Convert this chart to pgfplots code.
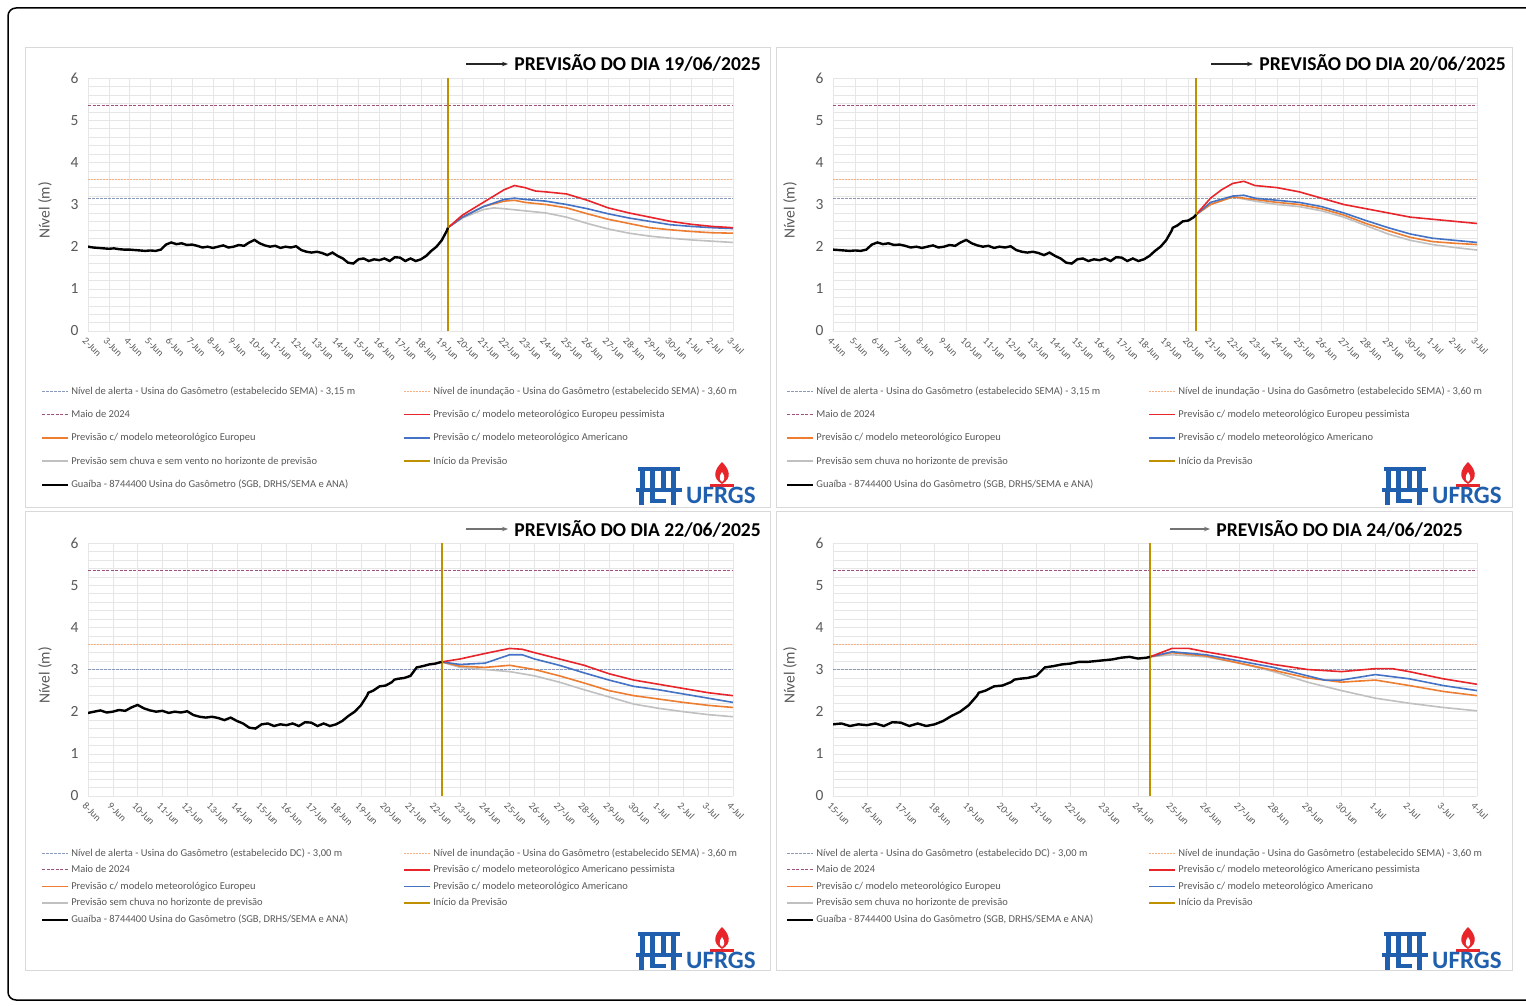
\documentclass[border=0pt]{standalone}
\usepackage{fontspec}
\setmainfont{Carlito}
\usepackage{pgfplots}
\pgfplotsset{compat=1.18}
\usepackage{pgfplotstable}
\usetikzlibrary{arrows.meta}

\definecolor{cAlert}{HTML}{8A9AB8}
\definecolor{cFlood}{HTML}{F4B183}
\definecolor{cMaio}{HTML}{A0507F}
\definecolor{cRed}{HTML}{E8252B}
\definecolor{cOrange}{HTML}{ED7D31}
\definecolor{cBlue}{HTML}{4472C4}
\definecolor{cGray}{HTML}{C0C0C0}
\definecolor{cGold}{HTML}{BF9000}
\definecolor{cTick}{HTML}{595959}
\definecolor{cFrame}{HTML}{D9D9D9}
\definecolor{cGrid}{HTML}{E6E6E6}
\definecolor{cUfrgs}{HTML}{1F5FAD}

\pgfplotstableread{
x y
2.0 2.00
2.25 1.98
2.5 1.97
2.75 1.96
3.0 1.95
3.25 1.96
3.5 1.94
3.75 1.93
4.0 1.93
4.25 1.92
4.5 1.91
4.75 1.90
5.0 1.91
5.25 1.90
5.5 1.93
5.75 2.05
6.0 2.10
6.25 2.06
6.5 2.08
6.75 2.04
7.0 2.05
7.25 2.02
7.5 1.98
7.75 2.00
8.0 1.97
8.25 2.00
8.5 2.03
8.75 1.98
9.0 2.00
9.25 2.04
9.5 2.02
9.75 2.10
10.0 2.16
10.25 2.08
10.5 2.03
10.75 2.00
11.0 2.02
11.25 1.97
11.5 2.00
11.75 1.98
12.0 2.01
12.25 1.92
12.5 1.88
12.75 1.86
13.0 1.88
13.25 1.85
13.5 1.80
13.75 1.86
14.0 1.78
14.25 1.72
14.5 1.62
14.75 1.60
15.0 1.70
15.25 1.72
15.5 1.66
15.75 1.70
16.0 1.68
16.25 1.72
16.5 1.66
16.75 1.75
17.0 1.74
17.25 1.66
17.5 1.72
17.75 1.66
18.0 1.70
18.25 1.78
18.5 1.90
18.75 2.00
19.0 2.15
19.25 2.38
19.3 2.45
19.5 2.50
19.75 2.60
20.0 2.62
20.25 2.70
20.35 2.76
20.5 2.78
20.75 2.80
21.0 2.85
21.25 3.05
21.5 3.08
21.75 3.12
22.0 3.14
22.25 3.18
22.5 3.18
22.75 3.20
23.0 3.22
23.25 3.24
23.5 3.28
23.75 3.30
24.0 3.26
24.25 3.28
24.35 3.30
}\obs

\newlength{\legw}
\setlength{\legw}{326pt}

\pgfplotsset{
  alertst/.style={color=cAlert, line width=0.8pt, dash pattern=on 2.5pt off 1.5pt},
  floodst/.style={color=cFlood, line width=1pt, dash pattern=on 1.5pt off 1.5pt},
  maiost/.style={color=cMaio, line width=0.9pt, dash pattern=on 3pt off 1.5pt},
  redst/.style={color=cRed, line width=1.6pt},
  orst/.style={color=cOrange, line width=1.6pt},
  bluest/.style={color=cBlue, line width=1.6pt},
  grst/.style={color=cGray, line width=1.6pt},
  goldst/.style={color=cGold, line width=2pt},
  blkst/.style={color=black, line width=2.4pt},
  panel/.style={
    scale only axis, width=645pt, height=253pt, anchor=south west,
    ymin=0, ymax=6, ytick={0,1,...,6}, minor y tick num=4,
    grid=both, major grid style={cGrid, line width=0.6pt}, minor grid style={cGrid, line width=0.4pt},
    axis line style={draw=none}, tick style={draw=none},
    /pgf/number format/assume math mode=true,
    yticklabel style={font=\fontsize{15.5}{15.5}\selectfont, text=cTick, xshift=-6pt},
    xticklabel style={font=\fontsize{10}{10}\selectfont, text=cTick, rotate=-45, anchor=north west, inner sep=0pt, yshift=-5pt, xshift=3pt},
    ylabel={Nível (m)},
    every axis y label/.style={at={(axis description cs:0,0.5)}, xshift=-43pt, yshift=-6pt, rotate=90, anchor=center, font=\fontsize{15.5}{15.5}\selectfont, text=cTick},
    legend columns=2,
    legend cell align=left,
    legend style={draw=none, fill=none, font=\fontsize{10.5}{11}\selectfont, text=cTick, anchor=north west,
      /tikz/every even column/.append style={column sep=4pt}},
    legend image code/.code={\draw[##1] (0pt,0pt) -- (26pt,0pt);},
  }
}

\newcommand{\panellegend}[4]{%
 \addlegendimage{alertst}\addlegendentry{\makebox[\legw][l]{#1}}
 \addlegendimage{floodst}\addlegendentry{#2}
 \addlegendimage{maiost}\addlegendentry{\makebox[\legw][l]{Maio de 2024}}
 \addlegendimage{redst}\addlegendentry{#3}
 \addlegendimage{orst}\addlegendentry{\makebox[\legw][l]{Previsão c/ modelo meteorológico Europeu}}
 \addlegendimage{bluest}\addlegendentry{Previsão c/ modelo meteorológico Americano}
 \addlegendimage{grst}\addlegendentry{\makebox[\legw][l]{#4}}
 \addlegendimage{goldst}\addlegendentry{Início da Previsão}
 \addlegendimage{blkst}\addlegendentry{\makebox[\legw][l]{Guaíba - 8744400 Usina do Gasômetro (SGB, DRHS/SEMA e ANA)}}
}

\newcommand{\reflines}[3]{%
 \addplot[alertst, forget plot] coordinates {(#1,#3) (#2,#3)};
 \addplot[floodst, forget plot] coordinates {(#1,3.6) (#2,3.6)};
 \addplot[maiost, forget plot] coordinates {(#1,5.35) (#2,5.35)};
}

\newcommand{\logo}[2]{%
 \begin{scope}[shift={(#1,#2)}]
  \fill[cUfrgs] (2,5) rectangle (44,9);
  \fill[cUfrgs] (4,9) rectangle (9,26);
  \fill[cUfrgs] (14,5) rectangle (19,30);
  \fill[cUfrgs] (25,9) rectangle (30,26);
  \fill[cUfrgs] (35,9) rectangle (40,26);
  \fill[cUfrgs] (0,26) rectangle (46,30);
  \fill[cUfrgs] (3,30) rectangle (8,43);
  \fill[cUfrgs] (14,30) rectangle (19,37);
  \fill[cUfrgs] (14,37) rectangle (30,41);
  \fill[cUfrgs] (35,30) rectangle (40,43);
  \fill[cRed] (86,0) .. controls (78,8) and (76,16) .. (86,22) .. controls (96,16) and (94,8) .. (86,0);
  \fill[white] (86,10) .. controls (83,14) and (83,18) .. (86,20) .. controls (89,18) and (89,14) .. (86,10);
  \fill[cRed] (74,22) rectangle (98,25);
  \node[anchor=base west, inner sep=0pt, text=cUfrgs, font=\bfseries\fontsize{25}{25}\selectfont] at (50,41) {UFRGS};
 \end{scope}
}

\begin{document}
\begin{tikzpicture}
\useasboundingbox (0pt,0pt) rectangle (1526pt,-1006pt);
\begin{scope}[x=1pt,y=-1pt]
 \fill[white] (0,0) rectangle (1526,1006);
 \draw[black, line width=1.5pt, rounded corners=8pt] (8,8) rectangle (1540,1000);
 \draw[cFrame, line width=0.8pt] (25,47) rectangle (770,507);
 \draw[cFrame, line width=0.8pt] (776,47) rectangle (1512,507);
 \draw[cFrame, line width=0.8pt] (25,511) rectangle (770,970);
 \draw[cFrame, line width=0.8pt] (776,511) rectangle (1512,970);
 \draw[black!85, line width=1.2pt, -{Stealth[length=6pt]}] (466,64) -- (508,64);
 \node[anchor=base east, inner sep=0pt, font=\bfseries\fontsize{19.6}{19.6}\selectfont] at (761,71) {PREVISÃO DO DIA 19/06/2025};
 \draw[black!85, line width=1.2pt, -{Stealth[length=6pt]}] (1211,64) -- (1253,64);
 \node[anchor=base east, inner sep=0pt, font=\bfseries\fontsize{19.6}{19.6}\selectfont] at (1506,71) {PREVISÃO DO DIA 20/06/2025};
 \draw[black!55, line width=1.2pt, -{Stealth[length=6pt]}] (466,529) -- (508,529);
 \node[anchor=base east, inner sep=0pt, font=\bfseries\fontsize{19.6}{19.6}\selectfont] at (761,536) {PREVISÃO DO DIA 22/06/2025};
 \draw[black!55, line width=1.2pt, -{Stealth[length=6pt]}] (1170,529) -- (1210,529);
 \node[anchor=base east, inner sep=0pt, font=\bfseries\fontsize{19.6}{19.6}\selectfont] at (1463,536) {PREVISÃO DO DIA 24/06/2025};
 \logo{636}{462}
 \logo{1382}{462}
 \logo{636}{927}
 \logo{1382}{927}
\end{scope}

% ---------------- Panel 1 ----------------
\begin{axis}[panel, at={(88pt,-331pt)},
  xmin=2, xmax=33, xtick={2,...,33},
  xticklabels={2-Jun,3-Jun,4-Jun,5-Jun,6-Jun,7-Jun,8-Jun,9-Jun,10-Jun,11-Jun,12-Jun,13-Jun,14-Jun,15-Jun,16-Jun,17-Jun,18-Jun,19-Jun,20-Jun,21-Jun,22-Jun,23-Jun,24-Jun,25-Jun,26-Jun,27-Jun,28-Jun,29-Jun,30-Jun,1-Jul,2-Jul,3-Jul},
  legend style={at={(axis description cs:-0.078,-0.203)}, row sep=10.5pt}]
 \panellegend{Nível de alerta - Usina do Gasômetro (estabelecido SEMA) - 3,15 m}{Nível de inundação - Usina do Gasômetro (estabelecido SEMA) - 3,60 m}{Previsão c/ modelo meteorológico Europeu pessimista}{Previsão sem chuva e sem vento no horizonte de previsão}
 \reflines{2}{33}{3.15}
 \addplot[grst, forget plot] coordinates {(19.3,2.45) (20,2.68) (21,2.88) (21.5,2.92) (22,2.9) (23,2.85) (24,2.8) (25,2.7) (26,2.55) (27,2.42) (28,2.32) (29,2.25) (30,2.2) (31,2.16) (32,2.13) (33,2.1)};
 \addplot[orst, forget plot] coordinates {(19.3,2.45) (20,2.7) (21,2.95) (22,3.08) (22.5,3.1) (23,3.05) (24,3.0) (25,2.92) (26,2.78) (27,2.65) (28,2.55) (29,2.45) (30,2.4) (31,2.36) (32,2.33) (33,2.32)};
 \addplot[bluest, forget plot] coordinates {(19.3,2.45) (20,2.7) (21,2.95) (22,3.12) (22.5,3.15) (23,3.12) (24,3.08) (25,3.0) (26,2.9) (27,2.78) (28,2.68) (29,2.6) (30,2.52) (31,2.48) (32,2.45) (33,2.43)};
 \addplot[redst, forget plot] coordinates {(19.3,2.45) (20,2.75) (21,3.05) (22,3.35) (22.5,3.45) (23,3.4) (23.5,3.32) (24,3.3) (25,3.25) (26,3.1) (27,2.92) (28,2.8) (29,2.7) (30,2.6) (31,2.53) (32,2.48) (33,2.45)};
 \addplot[goldst, forget plot] coordinates {(19.3,0) (19.3,6)};
 \addplot[blkst, forget plot, restrict x to domain=2:19.31] table[x=x,y=y] {\obs};
\end{axis}

% ---------------- Panel 2 ----------------
\begin{axis}[panel, at={(833pt,-331pt)}, width=644pt,
  xmin=4, xmax=33, xtick={4,...,33},
  xticklabels={4-Jun,5-Jun,6-Jun,7-Jun,8-Jun,9-Jun,10-Jun,11-Jun,12-Jun,13-Jun,14-Jun,15-Jun,16-Jun,17-Jun,18-Jun,19-Jun,20-Jun,21-Jun,22-Jun,23-Jun,24-Jun,25-Jun,26-Jun,27-Jun,28-Jun,29-Jun,30-Jun,1-Jul,2-Jul,3-Jul},
  legend style={at={(axis description cs:-0.078,-0.203)}, row sep=10.5pt}]
 \panellegend{Nível de alerta - Usina do Gasômetro (estabelecido SEMA) - 3,15 m}{Nível de inundação - Usina do Gasômetro (estabelecido SEMA) - 3,60 m}{Previsão c/ modelo meteorológico Europeu pessimista}{Previsão sem chuva no horizonte de previsão}
 \reflines{4}{33}{3.15}
 \addplot[grst, forget plot] coordinates {(20.35,2.76) (21,3.0) (22,3.18) (23,3.08) (24,3.0) (25,2.95) (26,2.85) (27,2.7) (28,2.5) (29,2.3) (30,2.15) (31,2.05) (32,1.98) (33,1.92)};
 \addplot[orst, forget plot] coordinates {(20.35,2.76) (21,3.0) (22,3.18) (23,3.12) (24,3.05) (25,3.0) (26,2.9) (27,2.75) (28,2.55) (29,2.38) (30,2.22) (31,2.12) (32,2.08) (33,2.05)};
 \addplot[bluest, forget plot] coordinates {(20.35,2.76) (21,3.05) (22,3.2) (22.5,3.22) (23,3.15) (24,3.1) (25,3.05) (26,2.95) (27,2.8) (28,2.62) (29,2.45) (30,2.3) (31,2.2) (32,2.15) (33,2.1)};
 \addplot[redst, forget plot] coordinates {(20.35,2.76) (21,3.15) (21.5,3.35) (22,3.5) (22.5,3.55) (23,3.45) (24,3.4) (25,3.3) (26,3.15) (27,3.0) (28,2.9) (29,2.8) (30,2.7) (31,2.65) (32,2.6) (33,2.55)};
 \addplot[goldst, forget plot] coordinates {(20.35,0) (20.35,6)};
 \addplot[blkst, forget plot, restrict x to domain=4:20.36] table[x=x,y=y] {\obs};
\end{axis}

% ---------------- Panel 3 ----------------
\begin{axis}[panel, at={(88pt,-796pt)},
  xmin=8, xmax=34, xtick={8,...,34},
  xticklabels={8-Jun,9-Jun,10-Jun,11-Jun,12-Jun,13-Jun,14-Jun,15-Jun,16-Jun,17-Jun,18-Jun,19-Jun,20-Jun,21-Jun,22-Jun,23-Jun,24-Jun,25-Jun,26-Jun,27-Jun,28-Jun,29-Jun,30-Jun,1-Jul,2-Jul,3-Jul,4-Jul},
  legend style={at={(axis description cs:-0.078,-0.191)}, row sep=3.8pt}]
 \panellegend{Nível de alerta - Usina do Gasômetro (estabelecido DC) - 3,00 m}{Nível de inundação - Usina do Gasômetro (estabelecido SEMA) - 3,60 m}{Previsão c/ modelo meteorológico Americano pessimista}{Previsão sem chuva no horizonte de previsão}
 \reflines{8}{34}{3.0}
 \addplot[grst, forget plot] coordinates {(22.25,3.18) (23,3.05) (24,3.0) (25,2.95) (26,2.85) (27,2.7) (28,2.52) (29,2.35) (30,2.18) (31,2.08) (32,2.0) (33,1.93) (34,1.88)};
 \addplot[orst, forget plot] coordinates {(22.25,3.18) (23,3.08) (24,3.05) (25,3.1) (26,3.0) (27,2.85) (28,2.68) (29,2.5) (30,2.38) (31,2.3) (32,2.22) (33,2.15) (34,2.1)};
 \addplot[bluest, forget plot] coordinates {(22.25,3.18) (23,3.12) (24,3.15) (25,3.35) (25.5,3.35) (26,3.25) (27,3.1) (28,2.92) (29,2.75) (30,2.6) (31,2.52) (32,2.42) (33,2.32) (34,2.22)};
 \addplot[redst, forget plot] coordinates {(22.25,3.18) (23,3.25) (24,3.38) (25,3.5) (25.5,3.48) (26,3.4) (27,3.25) (28,3.1) (29,2.9) (30,2.75) (31,2.65) (32,2.55) (33,2.45) (34,2.38)};
 \addplot[goldst, forget plot] coordinates {(22.27,0) (22.27,6)};
 \addplot[blkst, forget plot, restrict x to domain=8:22.26] table[x=x,y=y] {\obs};
\end{axis}

% ---------------- Panel 4 ----------------
\begin{axis}[panel, at={(833pt,-796pt)}, width=644pt,
  xmin=15, xmax=34, xtick={15,...,34},
  xticklabels={15-Jun,16-Jun,17-Jun,18-Jun,19-Jun,20-Jun,21-Jun,22-Jun,23-Jun,24-Jun,25-Jun,26-Jun,27-Jun,28-Jun,29-Jun,30-Jun,1-Jul,2-Jul,3-Jul,4-Jul},
  legend style={at={(axis description cs:-0.078,-0.191)}, row sep=3.8pt}]
 \panellegend{Nível de alerta - Usina do Gasômetro (estabelecido DC) - 3,00 m}{Nível de inundação - Usina do Gasômetro (estabelecido SEMA) - 3,60 m}{Previsão c/ modelo meteorológico Americano pessimista}{Previsão sem chuva no horizonte de previsão}
 \reflines{15}{34}{3.0}
 \addplot[grst, forget plot] coordinates {(24.35,3.3) (25,3.35) (26,3.3) (27,3.15) (28,2.95) (29,2.7) (30,2.5) (31,2.32) (32,2.2) (33,2.1) (34,2.02)};
 \addplot[orst, forget plot] coordinates {(24.35,3.3) (25,3.4) (26,3.32) (27,3.15) (28,2.98) (29,2.8) (30,2.7) (31,2.75) (32,2.62) (33,2.48) (34,2.38)};
 \addplot[bluest, forget plot] coordinates {(24.35,3.3) (25,3.42) (26,3.35) (27,3.2) (28,3.05) (29,2.85) (29.5,2.75) (30,2.75) (31,2.88) (32,2.78) (33,2.62) (34,2.5)};
 \addplot[redst, forget plot] coordinates {(24.35,3.3) (25,3.5) (25.5,3.5) (26,3.42) (27,3.28) (28,3.12) (29,3.0) (30,2.95) (31,3.02) (31.5,3.02) (32,2.95) (33,2.78) (34,2.65)};
 \addplot[goldst, forget plot] coordinates {(24.35,0) (24.35,6)};
 \addplot[blkst, forget plot, restrict x to domain=15:24.36] table[x=x,y=y] {\obs};
\end{axis}
\end{tikzpicture}
\end{document}
